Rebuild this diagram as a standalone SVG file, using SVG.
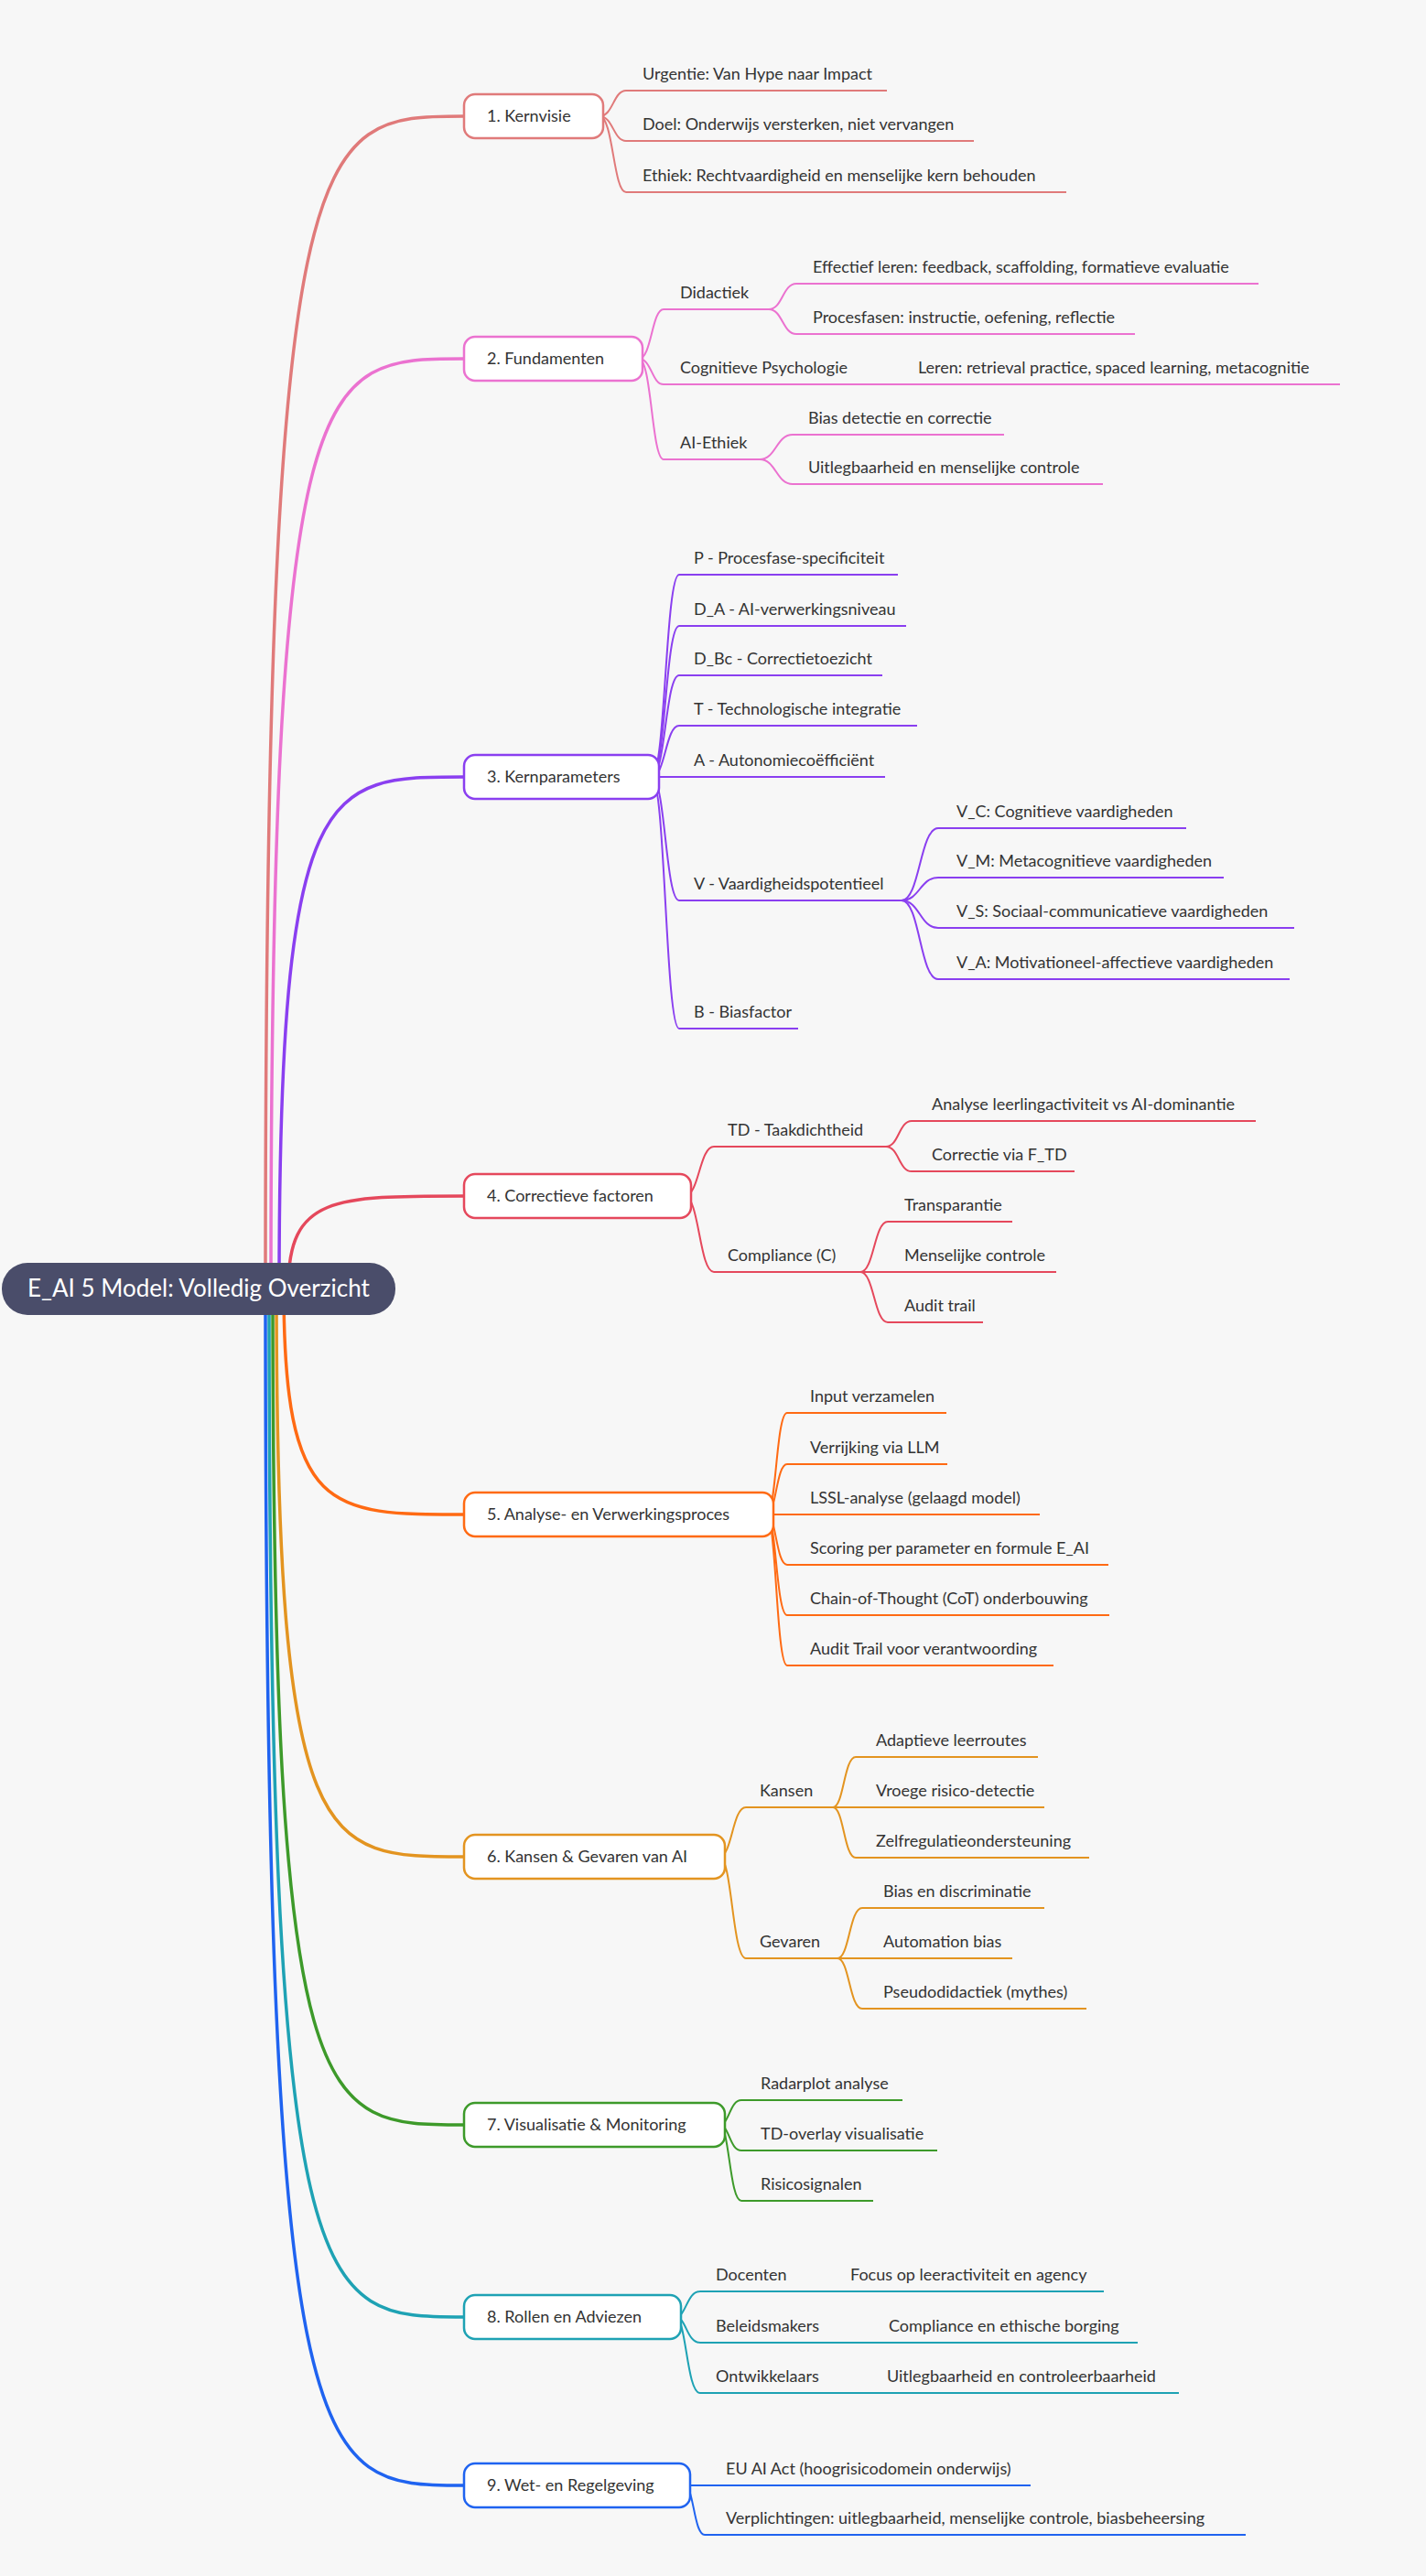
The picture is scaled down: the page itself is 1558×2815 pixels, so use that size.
<svg xmlns="http://www.w3.org/2000/svg" width="1558" height="2815" viewBox="0 0 1558 2815">
<style>
text{font-family:Lato,"Liberation Sans",sans-serif;font-size:18px;fill:#333}
.n{fill:#fff;stroke-width:2.5}
.r{fill:none;stroke-width:3.5}
.l{fill:none;stroke-width:2}
.root{font-size:26px;fill:#fff}
</style>
<rect width="1558" height="2815" fill="#f7f7f7"/>
<g id="connectors">
<path class="r" stroke="#e07a7a" d="M290 1407 C290 127,340 127,507 127"/>
<path class="r" stroke="#eb72d0" d="M296 1407 C296 392,346 392,507 392"/>
<path class="r" stroke="#8a3ff0" d="M305 1407 C305 849,355 849,507 849"/>
<path class="r" stroke="#e5485c" d="M315 1407 C315 1307,365 1307,507 1307"/>
<path class="r" stroke="#ff6a13" d="M310 1407 C310 1655,360 1655,507 1655"/>
<path class="r" stroke="#e39420" d="M302 1407 C302 2029,352 2029,507 2029"/>
<path class="r" stroke="#3d9a2a" d="M298 1407 C298 2322,348 2322,507 2322"/>
<path class="r" stroke="#1ea2b4" d="M294 1407 C294 2532,344 2532,507 2532"/>
<path class="r" stroke="#1f63f0" d="M290 1407 C290 2716,340 2716,507 2716"/>
<g stroke="#e07a7a">
<path class="l" d="M655 127 C670 127,670 99,684 99 L969 99"/>
<path class="l" d="M655 127 C670 127,670 154,684 154 L1064 154"/>
<path class="l" d="M655 127 C670 127,670 210,684 210 L1165 210"/>
</g>
<g stroke="#eb72d0">
<path class="l" d="M698 392 C712 392,712 338,725 338 L840 338"/>
<path class="l" d="M698 392 C712 392,712 420,725 420 L1464 420"/>
<path class="l" d="M698 392 C712 392,712 502,725 502 L830 502"/>
<path class="l" d="M840 338 C855 338,855 310,870 310 L1375 310"/>
<path class="l" d="M840 338 C855 338,855 365,870 365 L1240 365"/>
<path class="l" d="M830 502 C848 502,848 475,866 475 L1097 475"/>
<path class="l" d="M830 502 C848 502,848 529,866 529 L1205 529"/>
</g>
<g stroke="#8a3ff0">
<path class="l" d="M712 849 C727 849,727 628,742 628 L981 628"/>
<path class="l" d="M712 849 C727 849,727 684,742 684 L990 684"/>
<path class="l" d="M712 849 C727 849,727 738,742 738 L964 738"/>
<path class="l" d="M712 849 C727 849,727 793,742 793 L1002 793"/>
<path class="l" d="M712 849 L967 849"/>
<path class="l" d="M712 849 C727 849,727 984,742 984 L985 984"/>
<path class="l" d="M712 849 C727 849,727 1124,742 1124 L872 1124"/>
<path class="l" d="M985 984 C1005 984,1005 905,1025 905 L1296 905"/>
<path class="l" d="M985 984 C1005 984,1005 959,1025 959 L1337 959"/>
<path class="l" d="M985 984 C1005 984,1005 1014,1025 1014 L1414 1014"/>
<path class="l" d="M985 984 C1005 984,1005 1070,1025 1070 L1409 1070"/>
</g>
<g stroke="#e5485c">
<path class="l" d="M748 1307 C764 1307,764 1253,780 1253 L968 1253"/>
<path class="l" d="M748 1307 C764 1307,764 1390,780 1390 L940 1390"/>
<path class="l" d="M968 1253 C982 1253,982 1225,996 1225 L1372 1225"/>
<path class="l" d="M968 1253 C982 1253,982 1280,996 1280 L1174 1280"/>
<path class="l" d="M940 1390 C955 1390,955 1335,970 1335 L1106 1335"/>
<path class="l" d="M940 1390 L1154 1390"/>
<path class="l" d="M940 1390 C955 1390,955 1445,970 1445 L1074 1445"/>
</g>
<g stroke="#ff6a13">
<path class="l" d="M838 1655 C848 1655,848 1544,860 1544 L1034 1544"/>
<path class="l" d="M838 1655 C848 1655,848 1600,860 1600 L1035 1600"/>
<path class="l" d="M838 1655 L1136 1655"/>
<path class="l" d="M838 1655 C848 1655,848 1710,860 1710 L1211 1710"/>
<path class="l" d="M838 1655 C848 1655,848 1765,860 1765 L1212 1765"/>
<path class="l" d="M838 1655 C848 1655,848 1820,860 1820 L1151 1820"/>
</g>
<g stroke="#e39420">
<path class="l" d="M786 2029 C800 2029,800 1975,815 1975 L910 1975"/>
<path class="l" d="M786 2029 C800 2029,800 2140,815 2140 L915 2140"/>
<path class="l" d="M910 1975 C922 1975,922 1920,935 1920 L1134 1920"/>
<path class="l" d="M910 1975 L1141 1975"/>
<path class="l" d="M910 1975 C922 1975,922 2030,935 2030 L1190 2030"/>
<path class="l" d="M915 2140 C928 2140,928 2085,942 2085 L1141 2085"/>
<path class="l" d="M915 2140 L1106 2140"/>
<path class="l" d="M915 2140 C928 2140,928 2195,942 2195 L1187 2195"/>
</g>
<g stroke="#3d9a2a">
<path class="l" d="M786 2322 C797 2322,797 2295,810 2295 L986 2295"/>
<path class="l" d="M786 2322 C797 2322,797 2350,810 2350 L1024 2350"/>
<path class="l" d="M786 2322 C797 2322,797 2405,810 2405 L954 2405"/>
</g>
<g stroke="#1ea2b4">
<path class="l" d="M738 2532 C750 2532,750 2504,765 2504 L1206 2504"/>
<path class="l" d="M738 2532 C750 2532,750 2560,765 2560 L1243 2560"/>
<path class="l" d="M738 2532 C750 2532,750 2615,765 2615 L1288 2615"/>
</g>
<g stroke="#1f63f0">
<path class="l" d="M748 2716 L1126 2716"/>
<path class="l" d="M748 2716 C758 2716,758 2770,770 2770 L1361 2770"/>
</g>
</g>
<g id="root"><rect x="2" y="1380" width="430" height="57" rx="28" fill="#4a4d6a"/><text class="root" x="30" y="1417">E_AI 5 Model: Volledig Overzicht</text></g>
<g id="n1"><rect class="n" stroke="#e07a7a" x="507" y="103" width="152" height="48" rx="12"/><text x="532" y="133">1. Kernvisie</text>
<text x="702" y="87">Urgentie: Van Hype naar Impact</text><text x="702" y="142">Doel: Onderwijs versterken, niet vervangen</text><text x="702" y="198">Ethiek: Rechtvaardigheid en menselijke kern behouden</text></g>
<g id="n2"><rect class="n" stroke="#eb72d0" x="507" y="368" width="195" height="48" rx="12"/><text x="532" y="398">2. Fundamenten</text>
<text x="743" y="326">Didactiek</text><text x="888" y="298">Effectief leren: feedback, scaffolding, formatieve evaluatie</text><text x="888" y="353">Procesfasen: instructie, oefening, reflectie</text>
<text x="743" y="408">Cognitieve Psychologie</text><text x="1003" y="408">Leren: retrieval practice, spaced learning, metacognitie</text>
<text x="743" y="490">AI-Ethiek</text><text x="883" y="463">Bias detectie en correctie</text><text x="883" y="517">Uitlegbaarheid en menselijke controle</text></g>
<g id="n3"><rect class="n" stroke="#8a3ff0" x="507" y="825" width="213" height="48" rx="12"/><text x="532" y="855">3. Kernparameters</text>
<text x="758" y="616">P - Procesfase-specificiteit</text><text x="758" y="672">D_A - AI-verwerkingsniveau</text><text x="758" y="726">D_Bc - Correctietoezicht</text><text x="758" y="781">T - Technologische integratie</text><text x="758" y="837">A - Autonomiecoëfficiënt</text><text x="758" y="972">V - Vaardigheidspotentieel</text><text x="758" y="1112">B - Biasfactor</text>
<text x="1045" y="893">V_C: Cognitieve vaardigheden</text><text x="1045" y="947">V_M: Metacognitieve vaardigheden</text><text x="1045" y="1002">V_S: Sociaal-communicatieve vaardigheden</text><text x="1045" y="1058">V_A: Motivationeel-affectieve vaardigheden</text></g>
<g id="n4"><rect class="n" stroke="#e5485c" x="507" y="1283" width="248" height="48" rx="12"/><text x="532" y="1313">4. Correctieve factoren</text>
<text x="795" y="1241">TD - Taakdichtheid</text><text x="1018" y="1213">Analyse leerlingactiviteit vs AI-dominantie</text><text x="1018" y="1268">Correctie via F_TD</text>
<text x="795" y="1378">Compliance (C)</text><text x="988" y="1323">Transparantie</text><text x="988" y="1378">Menselijke controle</text><text x="988" y="1433">Audit trail</text></g>
<g id="n5"><rect class="n" stroke="#ff6a13" x="507" y="1631" width="338" height="48" rx="12"/><text x="532" y="1661">5. Analyse- en Verwerkingsproces</text>
<text x="885" y="1532">Input verzamelen</text><text x="885" y="1588">Verrijking via LLM</text><text x="885" y="1643">LSSL-analyse (gelaagd model)</text><text x="885" y="1698">Scoring per parameter en formule E_AI</text><text x="885" y="1753">Chain-of-Thought (CoT) onderbouwing</text><text x="885" y="1808">Audit Trail voor verantwoording</text></g>
<g id="n6"><rect class="n" stroke="#e39420" x="507" y="2005" width="285" height="48" rx="12"/><text x="532" y="2035">6. Kansen &amp; Gevaren van AI</text>
<text x="830" y="1963">Kansen</text><text x="957" y="1908">Adaptieve leerroutes</text><text x="957" y="1963">Vroege risico-detectie</text><text x="957" y="2018">Zelfregulatieondersteuning</text>
<text x="830" y="2128">Gevaren</text><text x="965" y="2073">Bias en discriminatie</text><text x="965" y="2128">Automation bias</text><text x="965" y="2183">Pseudodidactiek (mythes)</text></g>
<g id="n7"><rect class="n" stroke="#3d9a2a" x="507" y="2298" width="285" height="48" rx="12"/><text x="532" y="2328">7. Visualisatie &amp; Monitoring</text>
<text x="831" y="2283">Radarplot analyse</text><text x="831" y="2338">TD-overlay visualisatie</text><text x="831" y="2393">Risicosignalen</text></g>
<g id="n8"><rect class="n" stroke="#1ea2b4" x="507" y="2508" width="237" height="48" rx="12"/><text x="532" y="2538">8. Rollen en Adviezen</text>
<text x="782" y="2492">Docenten</text><text x="929" y="2492">Focus op leeractiviteit en agency</text><text x="782" y="2548">Beleidsmakers</text><text x="971" y="2548">Compliance en ethische borging</text><text x="782" y="2603">Ontwikkelaars</text><text x="969" y="2603">Uitlegbaarheid en controleerbaarheid</text></g>
<g id="n9"><rect class="n" stroke="#1f63f0" x="507" y="2692" width="247" height="48" rx="12"/><text x="532" y="2722">9. Wet- en Regelgeving</text>
<text x="793" y="2704">EU AI Act (hoogrisicodomein onderwijs)</text><text x="793" y="2758">Verplichtingen: uitlegbaarheid, menselijke controle, biasbeheersing</text></g>
</svg>
